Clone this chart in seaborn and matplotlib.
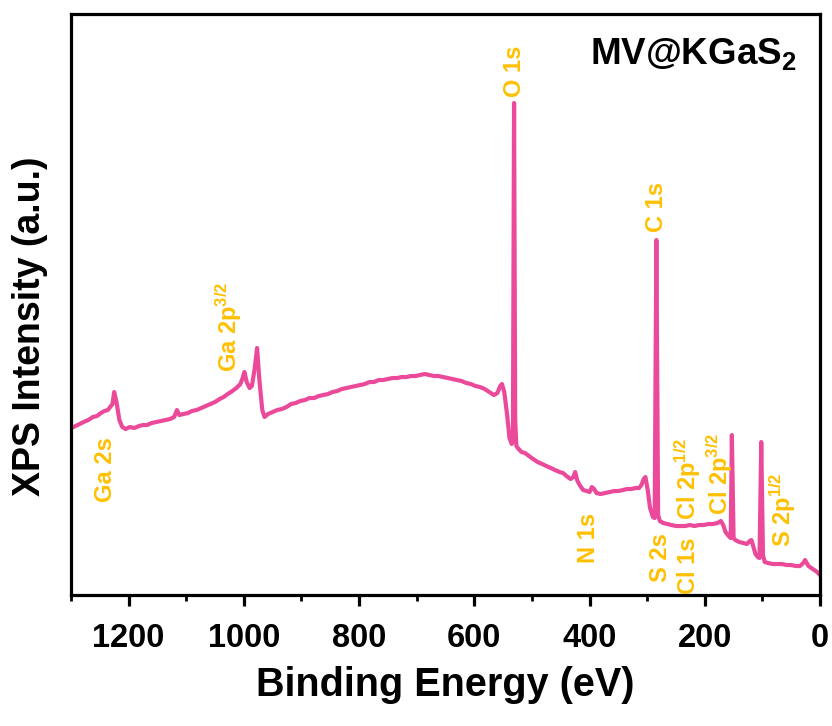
import matplotlib
matplotlib.use("Agg")
import matplotlib.pyplot as plt
from matplotlib import font_manager
from matplotlib.ticker import MultipleLocator
import pandas as pd
import seaborn as sns

# Survey spectrum: binding energy (eV) and intensity (a.u.)
binding_energy = [
    1300, 1292, 1285, 1278, 1270, 1262, 1255, 1248, 1242, 1236, 1232, 1228, 1225, 1221,
    1216, 1211, 1205, 1198, 1190, 1182, 1175, 1168, 1160, 1152, 1144, 1136, 1128, 1121,
    1116, 1112, 1105, 1097, 1090, 1082, 1074, 1066, 1058, 1050, 1042, 1035, 1028, 1020,
    1013, 1006, 1002, 999, 995, 990, 986, 981, 977, 973, 968, 964, 958, 950, 942, 934,
    926, 918, 910, 902, 894, 886, 878, 870, 862, 854, 846, 838, 830, 822, 814, 806, 798,
    790, 782, 774, 766, 758, 750, 742, 734, 726, 718, 710, 702, 694, 686, 678, 670, 662,
    654, 646, 638, 630, 622, 614, 606, 598, 590, 582, 574, 566, 560, 555, 552, 548, 543,
    539, 535, 533, 531, 529, 527, 523, 518, 512, 505, 498, 490, 482, 475, 467, 460, 452,
    446, 440, 433, 428, 425, 421, 416, 411, 405, 400, 396, 392, 388, 381, 373, 365, 357,
    350, 342, 335, 328, 320, 314, 310, 306, 303, 299, 295, 290, 287, 284, 281, 278, 272,
    265, 258, 250, 242, 234, 226, 218, 210, 202, 194, 186, 178, 172, 168, 164, 160, 157,
    155, 153, 150, 147, 140, 133, 127, 122, 119, 116, 112, 108, 105, 102, 99, 96, 90, 82,
    74, 66, 58, 50, 42, 35, 29, 26, 23, 20, 15, 10, 5, 0,
]
intensity = [
    167, 169, 171, 173, 175, 178, 179, 182, 184, 185, 188, 191, 203, 193,
    175, 168, 166, 168, 167, 169, 170, 170, 172, 173, 174, 175, 176, 178,
    185, 180, 181, 182, 184, 185, 187, 189, 191, 193, 196, 198, 201, 204,
    207, 211, 217, 223, 213, 207, 209, 227, 247, 215, 185, 178, 181, 183, 185, 186,
    188, 191, 192, 194, 195, 197, 197, 199, 200, 201, 203, 204, 206, 207, 208, 209, 210,
    211, 213, 213, 215, 215, 216, 217, 217, 218, 218, 219, 219, 220, 221, 220, 219, 219,
    218, 217, 216, 215, 214, 212, 211, 209, 208, 206, 203, 200, 202, 209, 211, 203, 180,
    157, 151, 155, 492, 175, 149, 146, 143, 142, 139, 136, 133, 131, 129, 127, 125, 123,
    122, 119, 116, 118, 123, 114, 109, 105, 104, 103, 108, 106, 102, 101, 102, 103, 104,
    104, 105, 106, 106, 107, 107, 110, 116, 118, 105, 87, 78, 77, 355, 80, 74, 72,
    71, 70, 69, 69, 69, 70, 69, 70, 70, 71, 71, 72, 74, 70, 63, 60, 58,
    57, 160, 57, 55, 53, 52, 51, 54, 55, 49, 41, 38, 37, 153, 40, 33, 32, 31,
    31, 31, 30, 30, 29, 29, 32, 35, 32, 29, 27, 25, 23, 20,
]

# Peak assignments
peak_labels = ["O 1s", "C 1s", "Ga 2p$^{3/2}$", "Ga 2s", "N 1s", "S 2s", "Cl 1s",
               "Cl 2p$^{1/2}$", "Cl 2p$^{3/2}$", "S 2p$^{1/2}$"]
label_energy = [531, 284, 1026, 1240, 402, 277, 229, 229, 175, 64]
label_level = [498, 363, 223, 158, 82, 62, 58, 75, 80, 48]
label_anchor = ["bottom", "bottom", "bottom", "top", "top", "top", "top",
                "bottom", "bottom", "bottom"]

sample_name = "MV@KGaS$_2$"
x_ticks = [1200, 1000, 800, 600, 400, 200, 0]

sns.set_theme(style="white")
installed = {f.name for f in font_manager.fontManager.ttflist}
main_font = "Liberation Sans" if "Liberation Sans" in installed else "DejaVu Sans"
plt.rcParams["font.family"] = [main_font, "DejaVu Sans"]
plt.rcParams["font.weight"] = "bold"
plt.rcParams["mathtext.default"] = "regular"

line_color = "#EB4A9B"
label_color = "#FFC000"

df = pd.DataFrame({"Binding Energy (eV)": binding_energy, "Intensity": intensity})

fig = plt.figure(figsize=(8.32, 7.26), dpi=100)
ax = fig.add_axes([0.0853, 0.1804, 0.9003, 0.8003])

sns.lineplot(data=df, x="Binding Energy (eV)", y="Intensity", ax=ax,
             color=line_color, linewidth=3.0, estimator=None, sort=False)

ax.set_xlim(1300, 0)
ax.set_ylim(0, 581)
ax.set_xticks(x_ticks)
ax.xaxis.set_minor_locator(MultipleLocator(100))
ax.set_yticks([])

for side in ["left", "right", "top", "bottom"]:
    ax.spines[side].set_visible(True)
    ax.spines[side].set_linewidth(2.3)
    ax.spines[side].set_color("black")

ax.tick_params(axis="x", which="major", direction="out", length=8, width=2.3,
               color="black", pad=12, bottom=True, top=False)
ax.tick_params(axis="x", which="minor", direction="out", length=4.5, width=2.0,
               color="black", bottom=True, top=False)
for lbl in ax.get_xticklabels():
    lbl.set_fontsize(23.5)
    lbl.set_fontweight("bold")
    lbl.set_color("black")

ax.set_xlabel("Binding Energy (eV)", fontsize=28.5, fontweight="bold",
              labelpad=9, color="black")
ax.set_ylabel("XPS Intensity (a.u.)", fontsize=27, fontweight="bold", color="black")
ax.yaxis.set_label_coords(-0.03, 0.463)

for text, xe, yl, va in zip(peak_labels, label_energy, label_level, label_anchor):
    ax.text(xe, yl, text, rotation=90, ha="center", va=va, fontsize=17,
            fontweight="bold", color=label_color)

ax.text(0.969, 0.962, sample_name, transform=ax.transAxes, ha="right", va="top",
        fontsize=26.5, fontweight="bold", color="black")

fig.savefig("out.png", dpi=100, facecolor="white")
